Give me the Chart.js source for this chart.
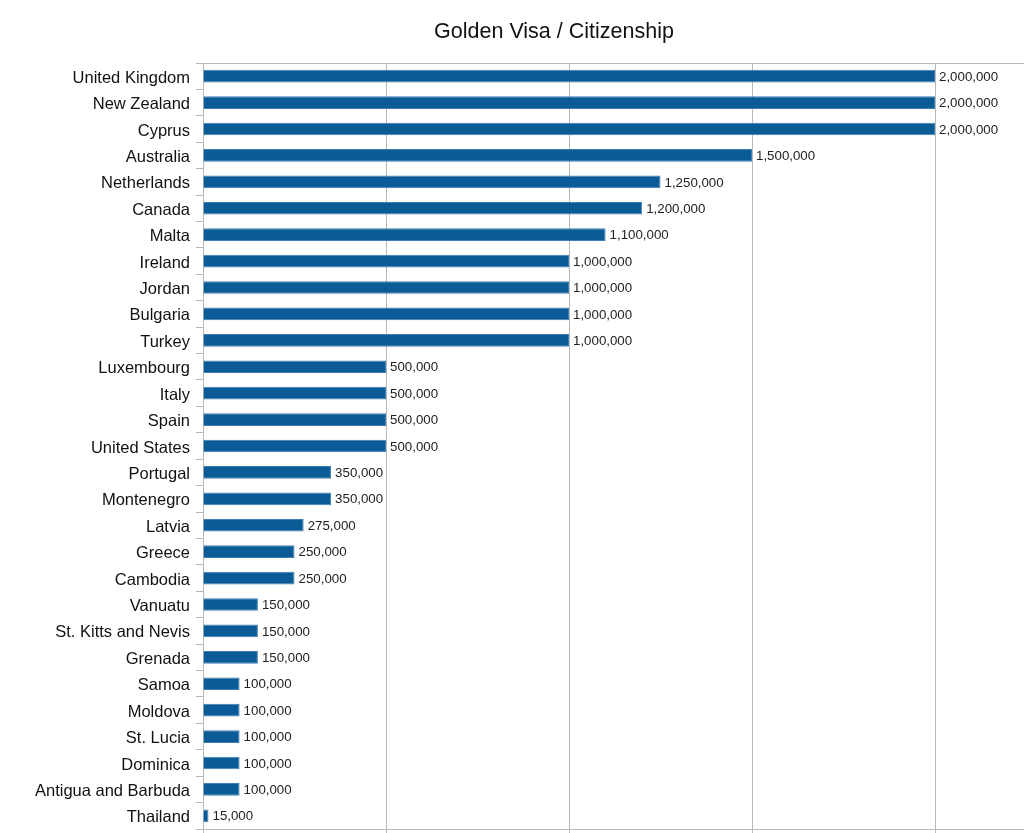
<!DOCTYPE html>
<html lang="en">
<head>
    <meta charset="UTF-8">
    <title>Golden Visa / Citizenship</title>
    <script src="https://cdn.jsdelivr.net/npm/chart.js"></script>
    <style>
        html, body {
            margin: 0;
            padding: 0;
            overflow: hidden;
            background: #fff;
        }
        #wrap {
            width: 1160px;
            height: 859px;
        }
    </style>
</head>
<body>
    <div id="wrap">
        <canvas id="visaChart" width="1160" height="859"></canvas>
    </div>
    <script>
        const chartTitle = 'Golden Visa / Citizenship';
        const countries = [
            'United Kingdom', 'New Zealand', 'Cyprus', 'Australia', 'Netherlands',
            'Canada', 'Malta', 'Ireland', 'Jordan', 'Bulgaria', 'Turkey',
            'Luxembourg', 'Italy', 'Spain', 'United States', 'Portugal',
            'Montenegro', 'Latvia', 'Greece', 'Cambodia', 'Vanuatu',
            'St. Kitts and Nevis', 'Grenada', 'Samoa', 'Moldova', 'St. Lucia',
            'Dominica', 'Antigua and Barbuda', 'Thailand'
        ];
        const investment = [
            2000000, 2000000, 2000000, 1500000, 1250000,
            1200000, 1100000, 1000000, 1000000, 1000000, 1000000,
            500000, 500000, 500000, 500000, 350000,
            350000, 275000, 250000, 250000, 150000,
            150000, 150000, 100000, 100000, 100000,
            100000, 100000, 15000
        ];
        const axisMax = 2500000;
        const axisStep = 500000;

        const fmt = v => v.toLocaleString('en-US');
        const fontFamily = '"Liberation Sans", Arial, sans-serif';

        // title drawn by hand so it sits where the original has it
        const titlePlugin = {
            id: 'fixedTitle',
            afterDraw(chart) {
                const ctx = chart.ctx;
                ctx.save();
                ctx.font = '21.5px ' + fontFamily;
                ctx.fillStyle = '#111';
                ctx.textAlign = 'center';
                ctx.textBaseline = 'middle';
                ctx.fillText(chartTitle, 554, 32);
                ctx.restore();
            }
        };

        // value labels at the end of each bar
        const valueLabels = {
            id: 'valueLabels',
            afterDatasetsDraw(chart) {
                const ctx = chart.ctx;
                const meta = chart.getDatasetMeta(0);
                ctx.save();
                ctx.font = '13.3px ' + fontFamily;
                ctx.fillStyle = '#222';
                ctx.textAlign = 'left';
                ctx.textBaseline = 'middle';
                meta.data.forEach((bar, i) => {
                    ctx.fillText(fmt(investment[i]), bar.x + 4, bar.y + 1);
                });
                ctx.restore();
            }
        };

        new Chart(document.getElementById('visaChart'), {
            type: 'bar',
            data: {
                labels: countries,
                datasets: [{
                    data: investment,
                    backgroundColor: '#0a5b96',
                    borderColor: '#3f7fb3',
                    borderWidth: 1,
                    borderSkipped: 'left',
                    barPercentage: 0.48,
                    categoryPercentage: 1
                }]
            },
            options: {
                indexAxis: 'y',
                responsive: false,
                animation: false,
                layout: { padding: { top: 63, right: 42, left: 0, bottom: 0 } },
                plugins: {
                    legend: { display: false },
                    title: { display: false },
                    tooltip: { enabled: false }
                },
                scales: {
                    x: {
                        position: 'bottom',
                        min: 0,
                        max: axisMax,
                        ticks: {
                            stepSize: axisStep,
                            callback: v => fmt(v),
                            font: { size: 13, family: fontFamily },
                            color: '#222'
                        },
                        grid: { color: '#b8b8b8', tickLength: 6 },
                        border: { color: '#b8b8b8' },
                        afterFit(scale) {
                            scale.height = 30;
                            scale.paddingLeft = 0;
                            scale.paddingRight = 0;
                        }
                    },
                    xTop: {
                        position: 'top',
                        min: 0,
                        max: axisMax,
                        ticks: { display: false },
                        grid: { display: false },
                        border: { display: true, color: '#b8b8b8' },
                        afterFit(scale) {
                            scale.height = 0;
                        }
                    },
                    y: {
                        ticks: {
                            font: { size: 16.5, family: fontFamily },
                            color: '#111',
                            padding: 6,
                            labelOffset: 2
                        },
                        grid: {
                            offset: true,
                            drawOnChartArea: false,
                            tickLength: 7,
                            color: '#b8b8b8'
                        },
                        border: { color: '#b8b8b8' },
                        afterFit(scale) {
                            scale.width = 203;
                        }
                    }
                }
            },
            plugins: [titlePlugin, valueLabels]
        });
    </script>
</body>
</html>
